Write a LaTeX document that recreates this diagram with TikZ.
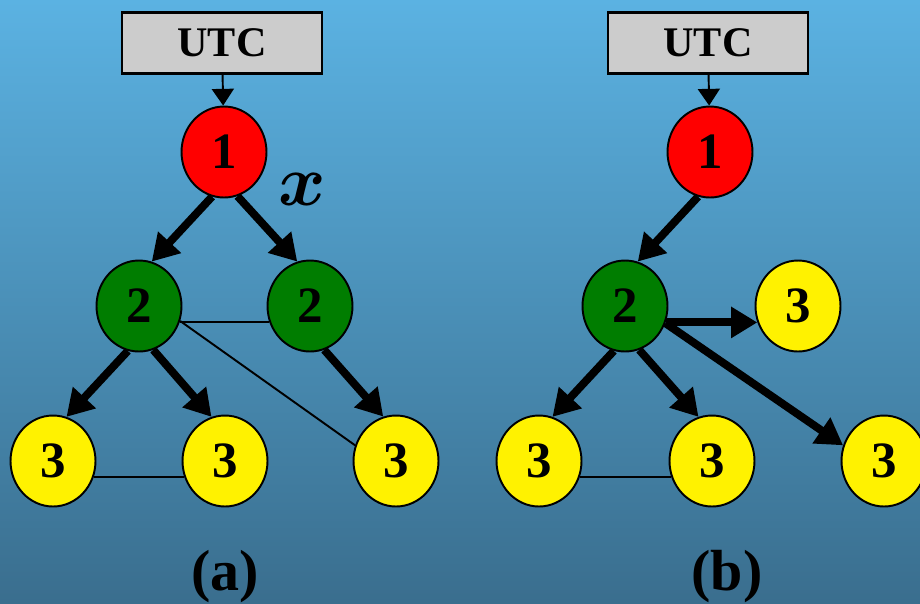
\documentclass[tikz,border=0pt]{standalone}
\usepackage{bm}
\usepackage{fontspec}
\setmainfont{Liberation Serif}
\usetikzlibrary{shapes.geometric,arrows.meta}
\definecolor{skytop}{RGB}{91,178,226}
\definecolor{skybot}{RGB}{58,110,142}
\definecolor{leafgreen}{RGB}{0,125,0}
\begin{document}
\begin{tikzpicture}[x=0.02cm,y=-0.02cm,
  vtx/.style={ellipse,draw=black,line width=1.1pt,minimum width=1.7cm,minimum height=1.82cm,inner sep=0pt,font=\fontsize{29}{32}\selectfont\bfseries},
  root/.style={vtx,fill=red},
  mid/.style={vtx,fill=leafgreen},
  leaf/.style={vtx,fill=yellow},
  clock/.style={rectangle,draw=black,line width=1.2pt,fill=black!20,minimum width=4cm,minimum height=1.22cm,font=\fontsize{24}{28}\selectfont\bfseries},
  fat/.style={line width=4.5pt,-{Triangle[length=15pt,width=17pt]}},
  slim/.style={line width=1.1pt,-{Triangle[length=9.5pt,width=12.5pt]}},
  link/.style={line width=1.1pt},
  caption/.style={font=\fontsize{33}{36}\selectfont\bfseries}]
\shade[top color=skytop,bottom color=skybot] (0,0) rectangle (920,603);
\useasboundingbox (0,0) rectangle (920,603);

% (a)
\node[clock] (utcA) at (222,43) {UTC};
\node[root] (oneA) at (224,152) {1};
\node[mid] (twoAl) at (139,306) {2};
\node[mid] (twoAr) at (310,306) {2};
\node[leaf] (thrAl) at (53,461) {3};
\node[leaf] (thrAm) at (225,461) {3};
\node[leaf] (thrAr) at (396,461) {3};
\node[font=\fontsize{34}{38}\selectfont,scale=1.65] (xlab) at (302,189) {$\bm{x}$};
\node[caption] (capA) at (225,577) {(a)};

\draw[slim] (utcA) -- (oneA);
\draw[fat] (oneA.255) -- (twoAl.74);
\draw[fat] (oneA.287) -- (twoAr.106);
\draw[fat] (twoAl.256) -- (thrAl.73);
\draw[fat] (twoAl.288) -- (thrAm.107);
\draw[fat] (twoAr.288) -- (thrAr.106);
\draw[link] (twoAl.-22) -- (twoAr.202);
\draw[link] (twoAl.-20) -- (thrAr.159);
\draw[link] (thrAl.-22) -- (thrAm.202);

% (b)
\node[clock] (utcB) at (708,43) {UTC};
\node[root] (oneB) at (710,152) {1};
\node[mid] (twoB) at (625,306) {2};
\node[leaf] (thrBt) at (798,306) {3};
\node[leaf] (thrBl) at (539,461) {3};
\node[leaf] (thrBm) at (712,461) {3};
\node[leaf] (thrBr) at (884,461) {3};
\node[caption] (capB) at (727,577) {(b)};

\draw[slim] (utcB) -- (oneB);
\draw[fat] (oneB.255) -- (twoB.74);
\draw[fat] (twoB.-22) -- (thrBt.202);
\draw[fat] (twoB.-23) -- (thrBr.159);
\draw[fat] (twoB.256) -- (thrBl.73);
\draw[fat] (twoB.288) -- (thrBm.107);
\draw[link] (thrBl.-22) -- (thrBm.202);
\end{tikzpicture}
\end{document}
